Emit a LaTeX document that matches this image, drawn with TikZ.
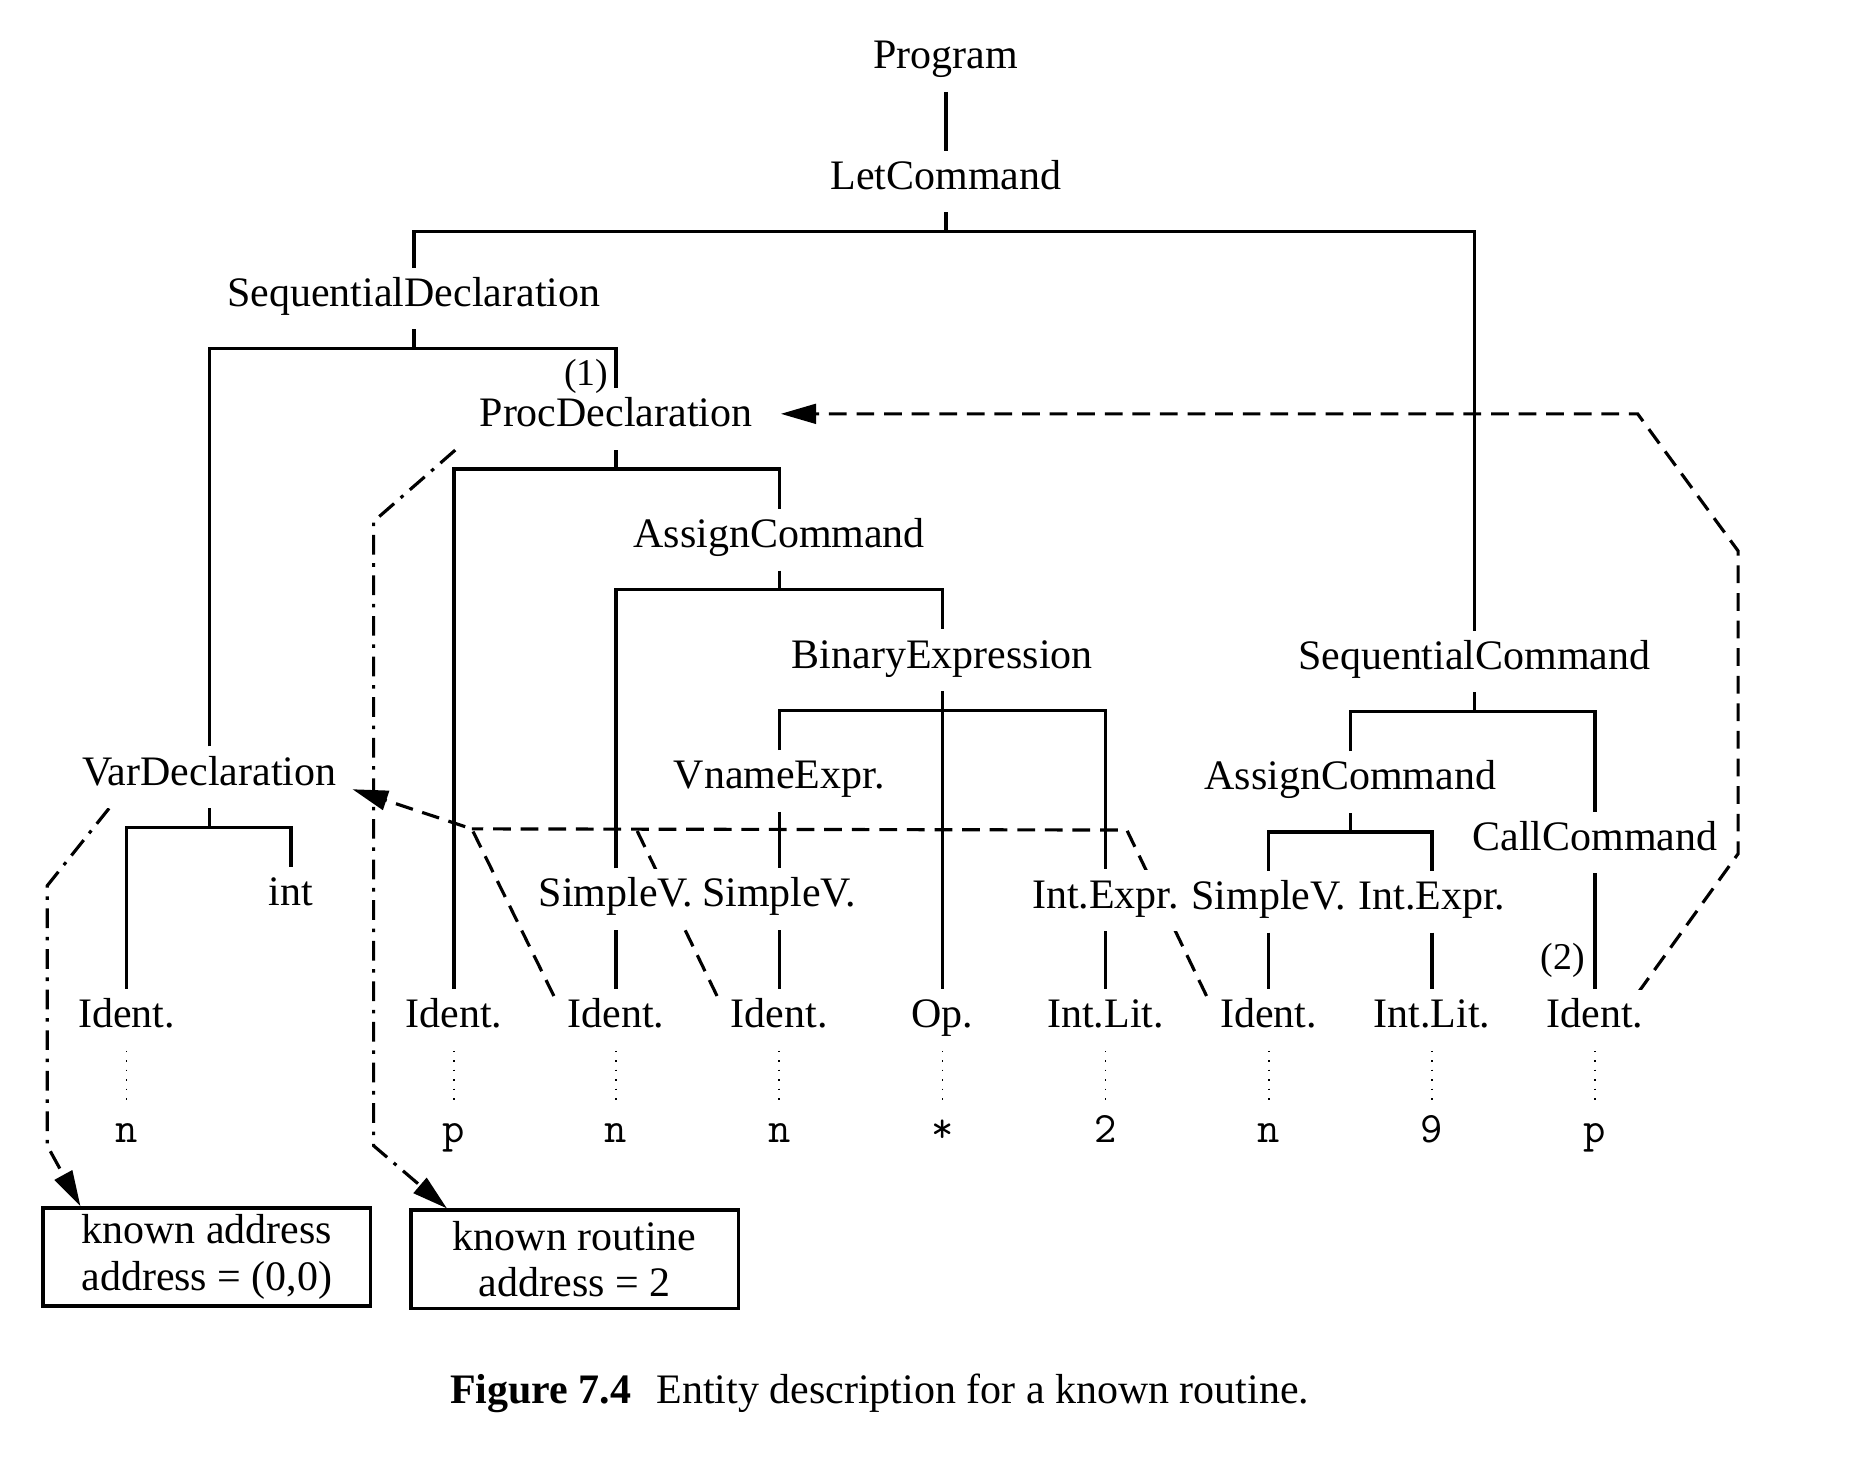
\documentclass[tikz,border=0pt]{standalone}
\usepackage{fontspec}
\setmainfont{Liberation Serif}
\usetikzlibrary{arrows.meta,backgrounds}
\begin{document}
\begin{tikzpicture}[x=0.3pt,y=-0.3pt,>={Triangle[length=9pt,width=5pt]},
  tnode/.style={anchor=base,inner sep=0pt,text height=9.6pt,text depth=5.7pt,fill=white,
    font=\fontsize{10.65pt}{12pt}\selectfont},
  tval/.style={tnode,font=\ttfamily\fontsize{11pt}{12pt}\selectfont},
  tag/.style={anchor=base east,inner sep=0pt,font=\fontsize{9.6pt}{11pt}\selectfont},
  tree/.style={line width=0.85pt},
  link/.style={line width=0.4pt,dotted},
  refline/.style={line width=0.8pt,dash pattern=on 4.5pt off 2.5pt,->},
  bindline/.style={line width=0.8pt,dash pattern=on 5pt off 2.2pt on 0.9pt off 2.2pt,->},
  entity/.style={draw,line width=0.9pt,minimum width=83.1pt,minimum height=24.9pt,
    align=center,inner sep=0pt,font=\fontsize{10.65pt}{11.7pt}\selectfont}]
\useasboundingbox (0,0) rectangle (1568,1235);

\node[tnode] (prog) at (800,58) {Program};
\node[tnode] (let) at (800,160) {LetCommand};
\node[tnode] (seqd) at (350,259) {SequentialDeclaration};
\node[tnode] (proc) at (521,361) {ProcDeclaration};
\node[tag] (one) at (515,326) {(1)};
\node[tnode] (asg) at (659,463) {AssignCommand};
\node[tnode] (bin) at (797,565) {BinaryExpression};
\node[tnode] (seqc) at (1247,566) {SequentialCommand};
\node[tnode] (var) at (177,664) {VarDeclaration};
\node[tnode] (vname) at (659,667) {VnameExpr.};
\node[tnode] (asgb) at (1142,668) {AssignCommand};
\node[tnode] (call) at (1349,719) {CallCommand};

\node[tnode] (int) at (246,766) {int};
\node[tnode] (sva) at (521,767) {SimpleV.};
\node[tnode] (svb) at (659,767) {SimpleV.};
\node[tnode] (iea) at (935,768) {Int.Expr.};
\node[tnode] (svc) at (1073,769) {SimpleV.};
\node[tnode] (ieb) at (1211,769) {Int.Expr.};
\node[tag] (two) at (1341,820) {(2)};

\node[tnode] (ida) at (107,869) {Ident.};
\node[tnode] (idb) at (384,869) {Ident.};
\node[tnode] (idc) at (521,869) {Ident.};
\node[tnode] (idd) at (659,869) {Ident.};
\node[tnode] (op) at (797,869) {Op.};
\node[tnode] (lita) at (935,869) {Int.Lit.};
\node[tnode] (ide) at (1073,869) {Ident.};
\node[tnode] (litb) at (1211,869) {Int.Lit.};
\node[tnode] (idf) at (1349,869) {Ident.};

\node[tval] (va) at (107,966) {n};
\node[tval] (vb) at (384,966) {p};
\node[tval] (vc) at (521,966) {n};
\node[tval] (vd) at (659,966) {n};
\node[tval] (ve) at (797,966) {*};
\node[tval] (vf) at (935,966) {2};
\node[tval] (vg) at (1073,966) {n};
\node[tval] (vh) at (1211,966) {9};
\node[tval] (vi) at (1349,966) {p};

\node[entity] (addr) at (175,1063) {known address\\address = (0,0)};
\node[entity] (rout) at (486,1065) {known routine\\address = 2};

\node[anchor=base,font=\fontsize{10.65pt}{12pt}\selectfont] (cap) at (744,1187)
  {\textbf{Figure 7.4}\hspace{0.6em}Entity description for a known routine.};

\begin{pgfonlayer}{background}
% syntax tree
\draw[tree] (prog.south) -- (let.north);
\draw[tree] (let.south) -- ++(0,16) coordinate (letbar);
\draw[tree] (seqd.north) |- (letbar) -| (seqc.north);
\draw[tree] (seqd.south) -- ++(0,16) coordinate (seqdbar);
\draw[tree] (var.north) |- (seqdbar) -| (proc.north);
\draw[tree] (var.south) -- ++(0,16) coordinate (varbar);
\draw[tree] (ida.north) |- (varbar) -| (int.north);
\draw[tree] (proc.south) -- ++(0,16) coordinate (procbar);
\draw[tree] (idb.north) |- (procbar) -| (asg.north);
\draw[tree] (asg.south) -- ++(0,16) coordinate (asgbar);
\draw[tree] (sva.north) |- (asgbar) -| (bin.north);
\draw[tree] (bin.south) -- (op.north);
\path (bin.south) ++(0,16) coordinate (binbar);
\draw[tree] (vname.north) |- (binbar) -| (iea.north);
\draw[tree] (vname.south) -- (svb.north);
\draw[tree] (sva.south) -- (idc.north);
\draw[tree] (svb.south) -- (idd.north);
\draw[tree] (iea.south) -- (lita.north);
\draw[tree] (seqc.south) -- ++(0,16) coordinate (seqcbar);
\draw[tree] (asgb.north) |- (seqcbar) -| (call.north);
\draw[tree] (asgb.south) -- ++(0,16) coordinate (asgbbar);
\draw[tree] (svc.north) |- (asgbbar) -| (ieb.north);
\draw[tree] (svc.south) -- (ide.north);
\draw[tree] (ieb.south) -- (litb.north);
\draw[tree] (call.south) -- (idf.north);
\foreach \i/\v in {ida/va,idb/vb,idc/vc,idd/vd,op/ve,lita/vf,ide/vg,litb/vh,idf/vi}
  \draw[link] (\i.south) -- (\v.north);

% applied occurrences
\draw[refline,shorten >=7pt] ([shift={(-5,3)}]idf.north east) -- (1470,722) -- (1470,466)
  -- (1385,350) coordinate (pk) -- (proc.east |- pk);
\draw[refline] ([shift={(-11,6)}]idc.north west) -- (399,701) coordinate (vj)
  -- ([shift={(13,10)}]var.east);
\draw[refline,-] ([shift={(-11,6)}]ide.north west) -- (953,702) -- (vj);
\draw[refline,-] ([shift={(-11,6)}]idd.north west) -- (538,701);

% entity descriptions
\draw[bindline] ([xshift=-6pt]proc.south west) -- (316,441) -- (316,969)
  -- ([xshift=9.6pt]rout.north west);
\draw[bindline] ([xshift=7pt]var.south west) -- (40,749) -- (40,969)
  -- ([xshift=9.9pt]addr.north west);
\end{pgfonlayer}
\end{tikzpicture}
\end{document}
